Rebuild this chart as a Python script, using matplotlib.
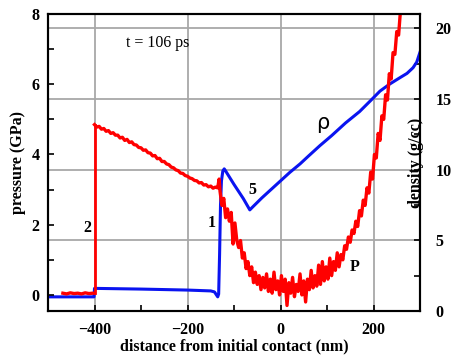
import matplotlib
matplotlib.use("Agg")
import matplotlib.pyplot as plt
from matplotlib.ticker import MultipleLocator

# ---------------- data ----------------
# pressure (GPa) vs distance (nm)
pre_x = [-468, -460, -452, -444, -436, -428, -420, -412, -404, -401]
pre_p = [0.05, 0.03, 0.06, 0.04, 0.05, 0.03, 0.06, 0.04, 0.05, 0.05]

lin_x = [-400, -395, -390, -385, -380, -375, -370, -365, -360, -355, -350,
         -345, -340, -335, -330, -325, -320, -315, -310, -305, -300, -295,
         -290, -285, -280, -275, -270, -265, -260, -255, -250, -245, -240,
         -235, -230, -225, -220, -215, -210, -205, -200, -195, -190, -185,
         -180, -175, -170, -165, -160, -155, -150, -145, -140, -135, -132]
lin_p = [4.85, 4.78, 4.80, 4.72, 4.74, 4.66, 4.68, 4.60, 4.62, 4.55, 4.55,
         4.47, 4.49, 4.40, 4.43, 4.34, 4.36, 4.28, 4.27, 4.20, 4.19, 4.12,
         4.13, 4.05, 4.04, 3.96, 3.97, 3.88, 3.89, 3.80, 3.80, 3.73, 3.71,
         3.64, 3.62, 3.56, 3.54, 3.47, 3.46, 3.40, 3.38, 3.33, 3.31, 3.26,
         3.25, 3.19, 3.20, 3.13, 3.14, 3.08, 3.10, 3.04, 3.07, 3.05, 3.30]

noisy_x = [-130, -126, -122, -118, -114, -110, -106, -102, -98, -94, -90,
           -86, -82, -78, -74, -70, -66, -62, -58, -54, -50, -46, -42, -38,
           -34, -30, -26, -22, -18, -14, -10, -6, -2,
           2, 6, 10, 14, 18, 22, 26, 30, 34, 38, 42, 46, 50, 54, 58, 62, 66,
           70, 74, 78, 82, 86, 90, 94, 98, 102, 106, 110, 114, 118, 122, 126,
           130, 134, 138, 142, 146, 150, 154, 158, 162, 166, 170, 174, 178,
           182, 186, 190, 194, 198, 202, 206, 210, 214, 218, 222, 226, 230,
           234, 238, 242, 246, 250, 254, 258, 262]
noisy_p = [2.95, 2.55, 2.75, 2.20, 2.45, 2.10, 2.35, 1.45, 2.05, 1.55, 1.35,
           1.55, 1.05, 1.20, 0.75, 0.95, 0.55, 0.80, 0.35, 0.65, 0.30, 0.55,
           0.15, 0.50, 0.20, 0.60, 0.10, 0.45, 0.05, 0.65, 0.15, 0.40, 0.00,
           0.55, 0.10, 0.45, -0.30, 0.35, 0.05, 0.50, -0.05, 0.30, 0.10, 0.60,
           0.00, 0.40, -0.20, 0.45, 0.15, 0.70, 0.20, 0.55, 0.25, 0.85, 0.30,
           0.95, 0.40, 0.80, 0.45, 1.05, 0.55, 0.95, 0.70, 1.20, 0.80, 1.15,
           1.00, 1.40, 1.30, 1.65, 1.50, 1.85, 1.75, 2.10, 1.95, 2.40, 2.25,
           2.70, 2.55, 3.05, 2.90, 3.50, 3.30, 4.00, 3.90, 4.60, 4.40, 5.10,
           5.00, 5.70, 5.55, 6.30, 6.15, 6.90, 6.85, 7.50, 7.40, 8.10, 8.30]

# density (g/cc) vs distance (nm)
rho_x = [-500, -401, -400, -300, -200, -150, -142, -138, -135, -133, -131,
         -129, -127, -124, -121, -118, -100, -80, -66, -60, -40, -20, 0, 20,
         42, 60, 85, 110, 140, 170, 196, 214, 235, 257, 272, 285, 293, 300]
rho_d = [1.0, 1.0, 1.6, 1.55, 1.48, 1.42, 1.35, 1.15, 1.0, 1.2, 4.0,
         7.5, 9.2, 9.9, 10.05, 9.9, 8.95, 7.95, 7.15, 7.35, 8.0, 8.6, 9.2, 9.8,
         10.4, 10.95, 11.7, 12.4, 13.3, 14.1, 14.95, 15.55, 16.05, 16.5, 16.8,
         17.2, 17.6, 18.3]

x_ticks = [-400, -200, 0, 200]
p_ticks = [0, 2, 4, 6, 8]
d_ticks = [0, 5, 10, 15, 20]

# ---------------- plot ----------------
W, H = 453, 356
fig = plt.figure(figsize=(W / 100, H / 100), dpi=100)
ax = fig.add_axes([48 / W, 1 - 311 / H, (420 - 48) / W, (311 - 14) / H])
ax2 = ax.twinx()

serif = ["Liberation Serif", "DejaVu Serif"]
FS = 11.5

# main axes = density (ticks on right)
ax.set_xlim(-500, 300)
ax.set_ylim(0, 21)
ax.yaxis.tick_right()
ax.yaxis.set_label_position("right")
ax.set_xticks(x_ticks)
ax.set_yticks(d_ticks)
ax.xaxis.set_minor_locator(MultipleLocator(100))
ax.yaxis.set_minor_locator(MultipleLocator(2.5))
ax.grid(True, which="major", color="#a8a8a8", linewidth=1.3)
ax.set_axisbelow(True)
ax.plot(rho_x, rho_d, color="#0a14f0", linewidth=2.2, zorder=3)
ax.tick_params(axis="both", which="both", direction="in", length=4,
               width=1.2, top=False, left=False, right=True,
               labelleft=False, labelright=True)
ax.tick_params(axis="y", pad=11)
ax.tick_params(axis="x", pad=8)
for lab in ax.get_xticklabels() + ax.get_yticklabels():
    lab.set_fontfamily(serif)
    lab.set_fontweight("bold")
    lab.set_fontsize(FS)
ax.set_ylabel("density (g/cc)", family=serif, weight="bold", fontsize=FS)
ax.yaxis.set_label_coords((408 - 48) / (420 - 48), 0.5)
ax.set_xlabel("distance from initial contact (nm)", family=serif,
              weight="bold", fontsize=FS, labelpad=0)

# twin axes = pressure (ticks on left)
ax2.yaxis.tick_left()
ax2.yaxis.set_label_position("left")
ax2.set_ylim(-0.457, 8.0)
ax2.set_yticks(p_ticks)
ax2.yaxis.set_minor_locator(MultipleLocator(1))
ax2.tick_params(axis="y", which="both", direction="in", length=4, width=1.2,
                left=True, right=False, labelleft=True, labelright=False,
                pad=6)
for lab in ax2.get_yticklabels():
    lab.set_fontfamily(serif)
    lab.set_fontweight("bold")
    lab.set_fontsize(FS)
ax2.set_ylabel("pressure (GPa)", family=serif, weight="bold", fontsize=FS,
               labelpad=4)

red = "#ff0000"
ax2.plot(pre_x, pre_p, color=red, linewidth=2.4)
ax2.plot([lin_x[0], lin_x[0]], [pre_p[-1], lin_p[0]], color=red, linewidth=2.0)
ax2.plot(lin_x + noisy_x, lin_p + noisy_p, color=red, linewidth=2.4)

for a in (ax, ax2):
    for s in a.spines.values():
        s.set_linewidth(1.5)
        s.set_color("black")

# annotations
ax.text((158 - 48) / 372, 1 - (43 - 14) / 297, "t = 106 ps", transform=ax.transAxes,
        family=serif, fontsize=FS, ha="center", va="center")
ax.text((87 - 48) / 372, 1 - (228 - 14) / 297, "2", transform=ax.transAxes,
        family=serif, weight="bold", fontsize=FS, ha="center", va="center")
ax.text((212 - 48) / 372, 1 - (223 - 14) / 297, "1", transform=ax.transAxes,
        family=serif, weight="bold", fontsize=FS, ha="center", va="center")
ax.text((252 - 48) / 372, 1 - (190 - 14) / 297, "5", transform=ax.transAxes,
        family=serif, weight="bold", fontsize=FS, ha="center", va="center")
ax.text((355 - 48) / 372, 1 - (267 - 14) / 297, "P", transform=ax.transAxes,
        family=serif, weight="bold", fontsize=FS, ha="center", va="center")
ax.text((323 - 48) / 372, 1 - (123 - 14) / 297, "ρ", transform=ax.transAxes,
        family=["DejaVu Sans"], fontsize=15, ha="center", va="center")

fig.savefig("out.png", dpi=100)
